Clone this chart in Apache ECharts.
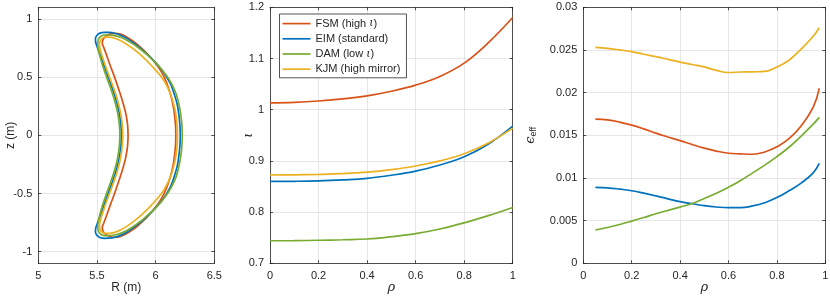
<!DOCTYPE html>
<html><head><meta charset="utf-8">
<script src="https://cdn.jsdelivr.net/npm/echarts@6/dist/echarts.min.js"></script>
<style>html,body{margin:0;padding:0;background:#fff}#c{width:830px;height:300px}</style>
</head><body><div id="c"></div>
<script>
// ---------- data ----------
const seriesNames = ['FSM (high ι)', 'EIM (standard)', 'DAM (low ι)', 'KJM (high mirror)'];
const seriesColors = ['#D95319', '#0072BD', '#77AC30', '#EDB120'];

// Left panel: boundary cross-sections [R (m), z (m)], closed loops
const shapeFSM = [[6.172,0],[6.17,0.08],[6.163,0.16],[6.15,0.25],[6.13,0.34],[6.105,0.42],[6.075,0.495],[6.04,0.56],[6.0,0.617],[5.95,0.677],[5.90,0.729],[5.85,0.775],[5.80,0.815],[5.75,0.847],[5.70,0.869],[5.66,0.876],[5.625,0.874],[5.595,0.864],[5.568,0.846],[5.551,0.82],[5.545,0.79],[5.556,0.76],[5.578,0.70],[5.613,0.60],[5.65,0.50],[5.684,0.40],[5.716,0.30],[5.743,0.20],[5.76,0.10],[5.765,0],
  [5.76,-0.10],[5.743,-0.20],[5.716,-0.30],[5.684,-0.40],[5.65,-0.50],[5.613,-0.60],[5.578,-0.70],[5.556,-0.76],[5.545,-0.79],[5.551,-0.82],[5.568,-0.846],[5.595,-0.864],[5.625,-0.874],[5.66,-0.876],[5.70,-0.869],[5.75,-0.847],[5.80,-0.815],[5.85,-0.775],[5.90,-0.729],[5.95,-0.677],[6.0,-0.617],[6.04,-0.56],[6.075,-0.495],[6.105,-0.42],[6.13,-0.34],[6.15,-0.25],[6.163,-0.16],[6.17,-0.08],[6.172,0]];
const shapeEIM = [[6.21,0],[6.208,0.07],[6.20,0.16],[6.185,0.26],[6.16,0.35],[6.13,0.435],[6.09,0.508],[6.05,0.565],[6.0,0.624],[5.95,0.676],[5.90,0.722],[5.85,0.764],[5.80,0.802],[5.75,0.835],[5.70,0.86],[5.65,0.877],[5.60,0.884],[5.56,0.885],[5.525,0.878],[5.50,0.86],[5.487,0.832],[5.489,0.80],[5.502,0.76],[5.525,0.70],[5.56,0.60],[5.596,0.50],[5.632,0.40],[5.664,0.30],[5.688,0.20],[5.703,0.10],[5.708,0],
  [5.703,-0.10],[5.688,-0.20],[5.664,-0.30],[5.632,-0.40],[5.596,-0.50],[5.56,-0.60],[5.525,-0.70],[5.502,-0.76],[5.489,-0.80],[5.487,-0.832],[5.50,-0.86],[5.525,-0.878],[5.56,-0.885],[5.60,-0.884],[5.65,-0.877],[5.70,-0.86],[5.75,-0.835],[5.80,-0.802],[5.85,-0.764],[5.90,-0.722],[5.95,-0.676],[6.0,-0.624],[6.05,-0.565],[6.09,-0.508],[6.13,-0.435],[6.16,-0.35],[6.185,-0.26],[6.20,-0.16],[6.208,-0.07],[6.21,0]];
const shapeDAM = [[6.227,0],[6.225,0.07],[6.217,0.16],[6.20,0.26],[6.175,0.355],[6.14,0.435],[6.10,0.503],[6.05,0.568],[6.0,0.623],[5.95,0.672],[5.90,0.716],[5.85,0.755],[5.80,0.79],[5.75,0.82],[5.70,0.843],[5.65,0.857],[5.60,0.862],[5.565,0.862],[5.535,0.852],[5.515,0.83],[5.507,0.80],[5.509,0.76],[5.52,0.70],[5.548,0.60],[5.582,0.50],[5.618,0.40],[5.65,0.30],[5.675,0.20],[5.69,0.10],[5.695,0],
  [5.69,-0.10],[5.675,-0.20],[5.65,-0.30],[5.618,-0.40],[5.582,-0.50],[5.548,-0.60],[5.52,-0.70],[5.509,-0.76],[5.507,-0.80],[5.515,-0.83],[5.535,-0.852],[5.565,-0.862],[5.60,-0.862],[5.65,-0.857],[5.70,-0.843],[5.75,-0.82],[5.80,-0.79],[5.85,-0.755],[5.90,-0.716],[5.95,-0.672],[6.0,-0.623],[6.05,-0.568],[6.10,-0.503],[6.14,-0.435],[6.175,-0.355],[6.20,-0.26],[6.217,-0.16],[6.225,-0.07],[6.227,0]];
const shapeKJM = [[6.186,0],[6.184,0.07],[6.178,0.14],[6.165,0.22],[6.145,0.30],[6.12,0.37],[6.09,0.435],[6.05,0.50],[6.0,0.56],[5.95,0.615],[5.90,0.665],[5.85,0.71],[5.80,0.75],[5.75,0.785],[5.70,0.814],[5.65,0.834],[5.60,0.843],[5.57,0.843],[5.545,0.833],[5.527,0.81],[5.521,0.78],[5.525,0.75],[5.538,0.70],[5.571,0.60],[5.607,0.50],[5.644,0.40],[5.676,0.30],[5.70,0.20],[5.715,0.10],[5.72,0],
  [5.715,-0.10],[5.70,-0.20],[5.676,-0.30],[5.644,-0.40],[5.607,-0.50],[5.571,-0.60],[5.538,-0.70],[5.525,-0.75],[5.521,-0.78],[5.527,-0.81],[5.545,-0.833],[5.57,-0.843],[5.60,-0.843],[5.65,-0.834],[5.70,-0.814],[5.75,-0.785],[5.80,-0.75],[5.85,-0.71],[5.90,-0.665],[5.95,-0.615],[6.0,-0.56],[6.05,-0.50],[6.09,-0.435],[6.12,-0.37],[6.145,-0.30],[6.165,-0.22],[6.178,-0.14],[6.184,-0.07],[6.186,0]];

// Middle panel: rotational transform vs rho
const rhoIota = [0,0.1,0.2,0.3,0.4,0.5,0.6,0.7,0.8,0.9,1.0];
const iotaFSM = [1.0135,1.0145,1.017,1.021,1.027,1.036,1.048,1.065,1.091,1.131,1.18];
const iotaEIM = [0.860,0.8602,0.861,0.863,0.866,0.872,0.880,0.892,0.908,0.933,0.968];
const iotaDAM = [0.744,0.7442,0.745,0.746,0.7475,0.752,0.758,0.767,0.779,0.793,0.809];
const iotaKJM = [0.8725,0.8727,0.8735,0.875,0.878,0.883,0.890,0.900,0.914,0.935,0.964];

// Right panel: effective ripple vs rho
const rhoEps = [0.05,0.1,0.15,0.2,0.25,0.3,0.35,0.4,0.45,0.5,0.55,0.6,0.65,0.7,0.75,0.8,0.85,0.9,0.95,0.975];
const epsFSM = [0.0169,0.0168,0.01655,0.0162,0.01575,0.01525,0.0148,0.01437,0.01392,0.0135,0.01315,0.0129,0.01282,0.01278,0.01305,0.01365,0.0146,0.0161,0.0183,0.0205];
const epsEIM = [0.0089,0.00885,0.0087,0.0085,0.00822,0.0079,0.00755,0.00722,0.00698,0.00675,0.0066,0.00652,0.00652,0.00672,0.0071,0.0077,0.0085,0.0094,0.0106,0.0117];
const epsDAM = [0.0039,0.0042,0.00455,0.00495,0.00537,0.0058,0.0062,0.00658,0.0070,0.0076,0.0082,0.0089,0.0097,0.0106,0.0115,0.0125,0.0136,0.0149,0.0163,0.0171];
const epsKJM = [0.0253,0.02518,0.0250,0.0248,0.0245,0.02422,0.0239,0.02358,0.0233,0.02302,0.0226,0.02236,0.02242,0.02244,0.02248,0.0230,0.0238,0.0251,0.0266,0.0276];

const yTicksLeft = [-1,-0.5,0,0.5,1];

// ---------- chart ----------
const TXT = '#262626';
const FONT = 'Liberation Sans, Arial, sans-serif';
const GRIDC = '#dfdfdf';
const grids = [
  {left:38.3, top:7.3, width:176, height:256, outerBoundsMode:'none', containLabel:false},
  {left:270, top:7.3, width:242.7, height:256, outerBoundsMode:'none', containLabel:false},
  {left:583.3, top:7.3, width:242, height:256, outerBoundsMode:'none', containLabel:false}
];
const tickStyle = {inside:true, length:3, lineStyle:{color:TXT, width:0.8}};
function mainX(gi, min, max, interval, name, extra){
  return Object.assign({type:'value', gridIndex:gi, min, max, interval, position:'bottom',
    name, nameLocation:'middle', nameGap:18, nameMoveOverlap:false,
    nameTextStyle:{color:TXT, fontSize:12, fontFamily:FONT},
    axisLine:{onZero:false, lineStyle:{color:TXT, width:0.8}},
    axisTick:tickStyle,
    axisLabel:{color:TXT, fontSize:11, fontFamily:FONT, margin:7},
    splitLine:{show:true, lineStyle:{color:GRIDC, width:0.8}}}, extra||{});
}
function mainY(gi, min, max, interval, name, nameGap, extra){
  return Object.assign({type:'value', gridIndex:gi, min, max, interval, position:'left',
    name, nameLocation:'middle', nameGap, nameRotate:90, nameMoveOverlap:false,
    nameTextStyle:{color:TXT, fontSize:12, fontFamily:FONT},
    axisLine:{onZero:false, lineStyle:{color:TXT, width:0.8}},
    axisTick:tickStyle,
    axisLabel:{color:TXT, fontSize:11, fontFamily:FONT, margin:6},
    splitLine:{show:true, lineStyle:{color:GRIDC, width:0.8}}}, extra||{});
}
function boxAxis(gi, min, max, interval, pos, extra){
  return Object.assign({type:'value', gridIndex:gi, min, max, interval, position:pos,
    axisLine:{onZero:false, lineStyle:{color:TXT, width:0.8}},
    axisTick:tickStyle,
    axisLabel:{show:false}, splitLine:{show:false}}, extra||{});
}
const greekName = {color:TXT, fontSize:13, fontStyle:'italic', fontFamily:'DejaVu Serif'};
const leftYExtra = {
  axisTick:Object.assign({}, tickStyle, {customValues:yTicksLeft}),
  axisLabel:{color:TXT, fontSize:11, fontFamily:FONT, margin:6, customValues:yTicksLeft},
  splitLine:{show:true, lineStyle:{color:GRIDC, width:0.8}, customValues:yTicksLeft}
};
const xAxes = [
  mainX(0, 5, 6.5, 0.5, 'R (m)'),
  mainX(1, 0, 1, 0.2, 'ρ', {nameTextStyle:greekName}),
  mainX(2, 0, 1, 0.2, 'ρ', {nameTextStyle:greekName}),
  boxAxis(0, 5, 6.5, 0.5, 'top'),
  boxAxis(1, 0, 1, 0.2, 'top'),
  boxAxis(2, 0, 1, 0.2, 'top')
];
const yAxes = [
  mainY(0, -1.1, 1.1, 0.5, 'z (m)', 22, leftYExtra),
  mainY(1, 0.7, 1.2, 0.1, 'ι', 15, {nameTextStyle:greekName}),
  mainY(2, 0, 0.03, 0.005, '{e|ϵ}{s|eff}', 45, {nameTextStyle:{color:TXT, fontFamily:FONT,
     rich:{e:{fontSize:13, fontFamily:'DejaVu Serif', fontStyle:'italic', color:TXT}, s:{fontSize:9, color:TXT, padding:[7,0,0,0]}}}}),
  boxAxis(0, -1.1, 1.1, 0.5, 'right', {axisTick:Object.assign({}, tickStyle, {customValues:yTicksLeft})}),
  boxAxis(1, 0.7, 1.2, 0.1, 'right'),
  boxAxis(2, 0, 0.03, 0.005, 'right')
];
const shapes = [shapeFSM, shapeEIM, shapeDAM, shapeKJM];
const iotas = [iotaFSM, iotaEIM, iotaDAM, iotaKJM];
const epss = [epsFSM, epsEIM, epsDAM, epsKJM];
const series = [];
function lineSeries(i, xi, yi, data, smooth){
  return {type:'line', name:seriesNames[i], xAxisIndex:xi, yAxisIndex:yi, data,
    symbol:'none', showSymbol:false, smooth, animation:false, z:2+i,
    lineStyle:{color:seriesColors[i], width:1.7}, itemStyle:{color:seriesColors[i]}};
}
for (let i=0;i<4;i++) series.push(lineSeries(i,0,0,shapes[i],0.3));
for (let i=0;i<4;i++) series.push(lineSeries(i,1,1,rhoIota.map((r,k)=>[r,iotas[i][k]]),0.4));
for (let i=0;i<4;i++) series.push(lineSeries(i,2,2,rhoEps.map((r,k)=>[r,epss[i][k]]),0.45));

const chart = echarts.init(document.getElementById('c'), null, {renderer:'canvas'});
chart.setOption({
  animation:false,
  backgroundColor:'#fff',
  grid: grids,
  xAxis: xAxes,
  yAxis: yAxes,
  legend:{data:seriesNames, orient:'vertical', left:279.5, top:14, icon:'rect', itemWidth:28, itemHeight:1.7, itemGap:0,
    padding:[2,6,1,3], backgroundColor:'#fff', borderColor:TXT, borderWidth:0.8, borderRadius:0,
    selectedMode:false,
    textStyle:{color:TXT, fontSize:11, fontFamily:FONT, lineHeight:15.2,
      rich:{i:{fontSize:11, fontStyle:'italic', fontFamily:'DejaVu Serif', color:TXT, lineHeight:15.2}}},
    formatter: n => n.replace('ι','{i|ι}')},
  series
});
</script></body></html>
